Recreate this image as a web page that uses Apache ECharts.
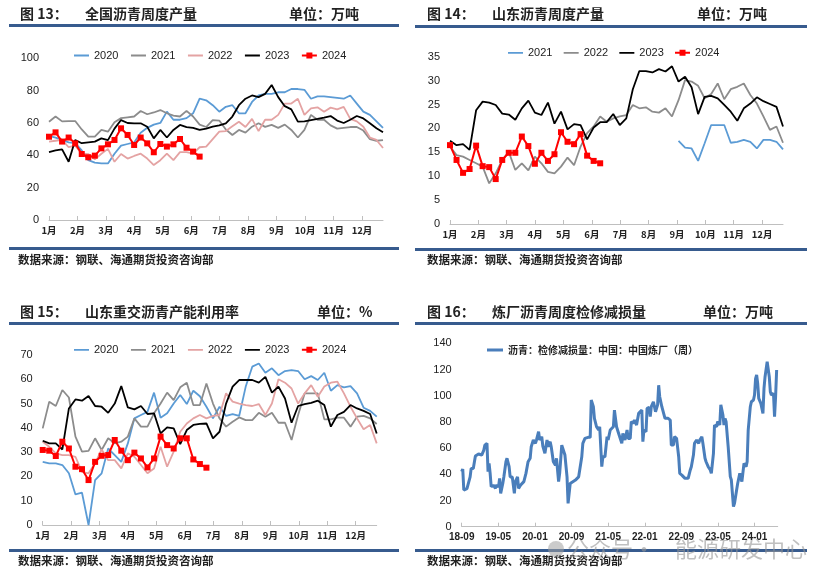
<!DOCTYPE html>
<html><head><meta charset="utf-8">
<script src="https://cdn.jsdelivr.net/npm/echarts@6/dist/echarts.min.js"></script>
<style>html,body{margin:0;padding:0;background:#fff}#c{width:837px;height:588px}</style>
</head><body><div id="c"></div><script>
// ---------- DATA ----------
const monthLabels = ['1月','2月','3月','4月','5月','6月','7月','8月','9月','10月','11月','12月'];

// 图13 全国沥青周度产量 (万吨), weekly
const p1_2020 = [52,51,49.5,48,47.5,43,37,35.5,35,35,41,46,47,48,54,57,59,60,67,62,62,63,66,75,74,71,67,70,71,66,66,73,77,78,78,79,79,81,81,80.5,75,76.5,76.5,76,75.5,75,77,72,67,65,61,57];
const p1_2021 = [60.8,64,61,61.2,61.2,56,51.5,51.5,55.7,54.6,60.5,63,63.5,64,67.4,65.4,66.5,68,66,64.5,64,67.5,64,59,57.5,61.8,61.5,56,52.6,55.7,54,57.7,59.8,57.6,58.8,57,59,55.7,51,55.7,65,62,62,58.5,56.5,57,57.5,57.5,55.3,50,49,49.4];
const p1_2022 = [48.5,49,49.5,45,46,41,40.8,37.5,41,44,36,40.8,38,39.6,41,38,34,37,41,37,42,42,41,45,45.4,50,54.6,55,58,60.8,57.5,62.5,55,62,62,65,72,72,75,65,69,69.7,67,69.5,68.4,70,62.5,61,57.7,51,49.5,44.5];
const p1_2023 = [42,43,43.7,36,49.5,47.5,48,48.5,50.5,49.4,56.5,61.8,60,59.8,59.8,57.7,50.5,55.7,51,55.7,58.8,57.5,57,55.7,56.5,57.7,58.5,59.8,64,71,75,77,76,78,83.5,76,70.4,68.4,60.8,61,61.8,62.5,63.3,64.3,61.5,60,62,64.3,62.8,59.8,56.7,54.2];
const p1_2024 = [51.5,54.2,48.5,51,47.4,40.8,38.8,39.8,44.3,46.8,49.5,56.7,52.6,46.4,51,47.4,41.9,47,45.4,46.8,50.1,44.7,42.3,39.2];

// 图14 山东沥青周度产量 (万吨)
const p2_2021_firstWeek = 35;
const p2_2021 = [17.4,16,15.8,13.2,16.9,20.7,20.7,20.7,17,17.2,17.6,17.2,15.8,17.6,17.6,17.2,15.6];
const p2_2022 = [16.2,14.4,14.1,13.4,12.7,12,8.5,10.6,13.4,15.1,11.3,12.7,11.2,14.1,12.7,10.9,10.6,12,13.9,12.3,16.2,19,20.4,22.5,21.4,22.1,22.5,22.8,24.9,24.2,24.4,23.5,23.3,24.2,22.5,25.9,30.1,29.8,28.9,26.3,27.2,29.4,26.1,28.2,28.7,29.4,27,25.2,22.5,19.7,20.4,17];
const p2_2023 = [17.4,16.5,16.7,15.5,23.8,25.6,25.4,24.9,23.1,22.9,21.8,24.2,25.8,23.3,22.8,25.4,21,23.5,19.8,20.9,20.7,17.7,20.2,21.3,21.3,23,20.7,22.1,28.2,32,32,31.7,32.4,31.9,33,29.8,30.8,28.6,23,26.6,26.8,26.3,24.9,23.5,21.6,24.2,25.2,26.5,25.7,25.1,24.5,20.4];
const p2_2024 = [16.5,13.4,10.7,11.5,16.4,12.1,11.9,9.4,13.4,14.9,14.9,18.3,16.3,12.6,14.9,13.2,14.6,19.2,17.2,16.7,18.8,14.3,13.2,12.7];

// 图15 山东重交沥青产能利用率 (%)
const p3_2020 = [26,25.4,25.4,24.7,21.3,12.6,13.3,0,18.5,21.3,31.5,28.8,26,33.6,43.9,45.3,46.6,54.5,44.2,46,50,53.5,49.8,55.3,53,48.7,43.9,48.7,44.9,45.7,44.9,57,65.2,66.5,62.7,64.5,61.7,63.4,63.8,63.4,60,61.3,59.7,62.7,55.3,57.6,56.7,57.2,54.2,48.3,47,44.6];
const p3_2021 = [39.8,50.8,49,55.6,52.5,36.4,30.2,30.5,35.7,30.9,35.7,33.6,34.3,36.4,43.9,40.5,40.5,46,50,54.5,51.4,56.7,58.6,49.4,49.4,58.3,50,43.9,40.5,42.5,44.3,43.2,43.2,46.2,44.6,46.2,42.1,42.1,35,45.3,54.2,54.2,54.2,43.5,43.5,44.2,44.2,40.5,44.6,44.9,43.9,41.6];
const p3_2022 = [34.3,32.2,29.5,28.8,28.8,28.1,21.9,21.3,25.4,31.1,26.7,26.7,23.3,29.5,28.1,24.7,21.3,23.3,32.2,24,30.2,38.4,41.8,43.9,45.3,43.9,44.9,45.3,54.2,50.8,50,49.4,49,49.8,45.3,50,60,58.6,56.2,50,54.2,57.6,52.8,57,58.6,59,54.2,48.7,43.9,39.4,41.2,33.6];
const p3_2023 = [34.7,33.6,33.6,31.1,48,51.7,51.2,53.1,49,48.7,46.2,50,57.2,48.4,47.6,49,45.7,46,37.7,40.2,39.8,33.3,39.1,41.2,41.6,41.8,35.7,38.4,50,57,59.7,59.7,59.7,58.6,61,54.5,57,52.1,42.1,49,49.8,50.3,51.2,49.4,40.5,45.3,46.6,49.4,48,47,45.7,37.7];
const p3_2024 = [30.9,30.6,28.4,34.3,31.5,24,23,18.5,26,28.5,28.8,35,30.6,26.7,29.8,27.4,23.7,27.4,36.4,32.9,31.5,35.7,35.7,27,25.1,23.6];

// 图16 炼厂沥青周度检修减损量 (万吨): week number since 2018-09 and value
const p4_weeks = [0,1,2,5,8,9,11,13,14,16,17,19,21,22,24,25,26,27,28,30,32,33,35,36,37,39,40,42,43,45,46,48,50,51,53,54,56,59,61,63,65,66,68,70,71,73,74,76,77,79,81,82,84,85,87,89,90,92,93,95,96,98,100,101,103,104,108,109,111,112,114,115,117,120,122,123,125,126,128,130,131,133,134,136,138,139,141,142,144,145,147,149,150,152,153,155,157,158,160,161,163,164,166,168,169,171,172,173,175,176,178,179,180,182,183,184,186,187,188,190,191,193,194,196,198,199,201,202,204,206,207,209,212,215,217,218,220,221,223,225,226,228,229,231,232,234,236,237,239,240,242,243,245,246,247,248,249,250,251,253,255,256,258,259,261,262,264,266,267,268,270,271,272,274,275,277,278,279,280,281,282,284,286,287,288,290,292,293,294,296,297,298,299];
const p4_values = [42,44,28,29,38,44.5,44.5,54,53.4,55.5,54,54.7,58.5,62.3,63.6,42,48.3,40.7,30.5,31.8,29.3,31.8,30.5,36.9,25.4,33,38,49.6,52.2,45.8,38,38,25.4,34.4,38,29.3,31.8,34.4,40.7,49.6,52.2,61,66.2,63.6,66.2,72.5,66.2,68.7,61.6,56,66.2,61,64.9,61,49.6,47,52.2,34.4,40.7,62.3,62.3,54.7,38,17.8,33,34.4,35.6,35,38,36.9,53.4,63.6,67.4,68.2,68.2,96.7,91.6,82.7,76.3,73.8,76.3,45.8,53.4,53.4,68.7,66.2,73.8,75,76.3,89,76.3,71.2,72.5,63.6,71.2,66.2,73.8,67.4,67.4,80.2,78.9,81.4,77.6,86.5,87.8,89,64.9,73.8,72.5,90.3,91,84,91.6,95.4,94,87.8,93,108,99.2,91.6,90.3,82.7,84,82.7,81.4,62.3,62.3,68.7,67.4,53.4,40.7,39.4,36.9,36.9,43.3,45.8,54.7,63.6,66.2,63.6,66.2,68.7,63.6,52.2,49.6,45.8,43.3,40.7,56,77.6,76.3,80.2,77.6,93,94.1,85.2,77.6,82.7,80.2,61,38.2,35.6,15.3,17.8,28,33,40.7,34.4,33,48.3,45.8,49.6,73.8,91.6,95.4,96.7,100.5,113,115.8,109.4,98,94.1,86.5,105.6,114.5,126,114.5,103,100.5,101.8,84,99.2,119.6];
const p4_tickLabels = ['18-09','19-05','20-01','20-09','21-05','22-01','22-09','23-05','24-01'];

// ---------- CHART ----------
const CJK = '"Noto Sans CJK SC", sans-serif';
const LAT = '"Liberation Sans", Arial, sans-serif';
const C = {b20:'#5B9BD5', g:'#8C8C8C', p:'#E4A3A3', k:'#000000', r:'#FF0000', rule:'#375B8E', axis:'#BFBFBF'};
const WPM = 52.14/12; // weeks per month
const monthPos = monthLabels.map((_, i) => i * WPM);
const p4Pos = p4_tickLabels.map((_, i) => i * 8 * WPM);

// legend icons (15 x 8 box): plain line, and line with square marker
const ICON_LINE = 'path://M0,0H15V0.01H0ZM0,3.1H15V4.9H0ZM0,7.99H15V8H0Z';
const ICON_MARK = 'path://M0,0H15V0.01H0ZM0,3H4.5V1H10.5V3H15V5H10.5V7H4.5V5H0ZM0,7.99H15V8H0Z';
const ICON_THICK = 'path://M0,0H16V0.01H0ZM0,2.5H16V5.5H0ZM0,7.99H16V8H0Z';

function toXY(arr, start){ return arr.map((v,i)=>[(start||0)+i, v]); }
function ser(name, data, color, gi, isCur, start){
  return {
    type:'line', name:name, xAxisIndex:gi, yAxisIndex:gi,
    data: toXY(data, start),
    symbol: isCur ? 'rect' : 'none', symbolSize: 6, showSymbol: !!isCur,
    lineStyle:{color:color, width: isCur ? 2 : 1.8},
    itemStyle:{color:color},
    z: isCur ? 5 : 3
  };
}
function xMonth(gi){
  return {type:'value', gridIndex:gi, min:0, max:51,
    axisLine:{lineStyle:{color:C.axis, width:1}},
    axisTick:{show:true, inside:true, length:4, lineStyle:{color:C.axis}, customValues: monthPos},
    axisLabel:{customValues: monthPos, margin:6, fontSize:9.5, fontWeight:'bold', fontFamily:CJK, color:'#222',
      formatter: v => monthLabels[Math.round(v / WPM)] || ''},
    splitLine:{show:false}};
}
function yVal(gi, max, interval){
  return {type:'value', gridIndex:gi, min:0, max:max, interval:interval,
    axisLine:{show:false}, axisTick:{show:false}, splitLine:{show:false},
    axisLabel:{fontSize:11, fontFamily:LAT, color:'#222', margin:10}};
}
function legend(left, top, names, gap, opts){
  return Object.assign({left:left, top:top, padding:0,
    data: names.map(n => ({name:n, icon: n.endsWith('2024') ? ICON_MARK : ICON_LINE})),
    itemWidth:15, itemHeight:8, itemGap:gap,
    itemStyle:{borderWidth:0},
    formatter: n => n.split('_')[1],
    textStyle:{fontSize:11, fontFamily:LAT, color:'#222'}, selectedMode:false}, opts||{});
}

const graphics = [];
function txt(x, y, s, font, fill){ graphics.push({type:'text', x:x, y:y, silent:true, style:{text:s, font:font, fill:fill||'#222', verticalAlign:'middle'}}); }
function rule(x, y, w){ graphics.push({type:'rect', silent:true, shape:{x:x, y:y, width:w, height:3}, style:{fill:C.rule}}); }
const TF = 'bold 14px ' + CJK, SF = 'bold 11.5px ' + CJK;
// panel 1
txt(20, 14, '图 13：', TF); txt(85, 14, '全国沥青周度产量', TF); txt(289, 14, '单位：万吨', TF);
rule(9, 24, 390); rule(9, 247, 390); txt(18, 260, '数据来源：钢联、海通期货投资咨询部', SF);
// panel 2
txt(427, 14, '图 14：', TF); txt(492, 14, '山东沥青周度产量', TF); txt(697, 14, '单位：万吨', TF);
rule(415, 25, 392); rule(415, 248, 392); txt(427, 260, '数据来源：钢联、海通期货投资咨询部', SF);
// panel 3
txt(20, 312, '图 15：', TF); txt(85, 312, '山东重交沥青产能利用率', TF); txt(317, 312, '单位：%', TF);
rule(9, 322, 390); rule(9, 549, 390); txt(18, 561, '数据来源：钢联、海通期货投资咨询部', SF);
// panel 4
txt(427, 312, '图 16：', TF); txt(492, 312, '炼厂沥青周度检修减损量', TF); txt(703, 312, '单位：万吨', TF);
rule(415, 322, 392); rule(415, 549, 392); txt(427, 561, '数据来源：钢联、海通期货投资咨询部', SF);
// watermark
graphics.push({type:'circle', silent:true, shape:{cx:556, cy:549, r:8}, style:{fill:'rgba(160,160,160,0.55)'}});
txt(567, 549, '公众号・', '22px ' + CJK, 'rgba(150,150,150,0.6)');
txt(675, 549, '能源研发中心', '22px ' + CJK, 'rgba(150,150,150,0.6)');

const p4Name = 'd_沥青：检修减损量：中国：中国炼厂（周）';
const option = {
  animation:false,
  backgroundColor:'#fff',
  grid:[
    {left:49, top:58.3, width:334, height:161.7},
    {left:450, top:56.7, width:333, height:167.3},
    {left:42.7, top:355, width:334, height:170},
    {left:461.7, top:343.3, width:316, height:183.4}
  ],
  xAxis:[ xMonth(0), xMonth(1), xMonth(2),
    {type:'value', gridIndex:3, min:0, max:300,
      axisLine:{lineStyle:{color:C.axis}},
      axisTick:{show:true, inside:true, length:4, lineStyle:{color:C.axis}, customValues:p4Pos},
      axisLabel:{customValues:p4Pos, margin:6, fontSize:10, fontWeight:'bold', fontFamily:LAT, color:'#222',
        formatter: v => p4_tickLabels[Math.round(v / (8*WPM))] || ''},
      splitLine:{show:false}}
  ],
  yAxis:[ yVal(0,100,20), yVal(1,35,5), yVal(2,70,10), yVal(3,140,20) ],
  legend:[
    legend(74, 50, ['a_2020','a_2021','a_2022','a_2023','a_2024'], 12.5),
    legend(508, 47.3, ['b_2021','b_2022','b_2023','b_2024'], 11.2),
    legend(74, 344.3, ['c_2020','c_2021','c_2022','c_2023','c_2024'], 12.5),
    Object.assign(legend(487, 345, [p4Name], 10), {
      data:[{name:p4Name, icon:ICON_THICK}], itemWidth:16,
      textStyle:{fontSize:10, fontWeight:'bold', fontFamily:CJK, color:'#222'}})
  ],
  series:[
    ser('a_2020', p1_2020, C.b20, 0), ser('a_2021', p1_2021, C.g, 0), ser('a_2022', p1_2022, C.p, 0),
    ser('a_2023', p1_2023, C.k, 0), ser('a_2024', p1_2024, C.r, 0, true),
    ser('b_2021', p2_2021, C.b20, 1, false, p2_2021_firstWeek), ser('b_2022', p2_2022, C.g, 1),
    ser('b_2023', p2_2023, C.k, 1), ser('b_2024', p2_2024, C.r, 1, true),
    ser('c_2020', p3_2020, C.b20, 2), ser('c_2021', p3_2021, C.g, 2), ser('c_2022', p3_2022, C.p, 2),
    ser('c_2023', p3_2023, C.k, 2), ser('c_2024', p3_2024, C.r, 2, true),
    {type:'line', name:p4Name, xAxisIndex:3, yAxisIndex:3, symbol:'none', showSymbol:false,
      data: p4_weeks.map((w,i)=>[w, p4_values[i]]),
      lineStyle:{color:'#4A7EBB', width:3}, itemStyle:{color:'#4A7EBB'}}
  ],
  graphic: graphics
};
const chart = echarts.init(document.getElementById('c'), null, {renderer:'canvas'});
chart.setOption(option);
</script></body></html>
